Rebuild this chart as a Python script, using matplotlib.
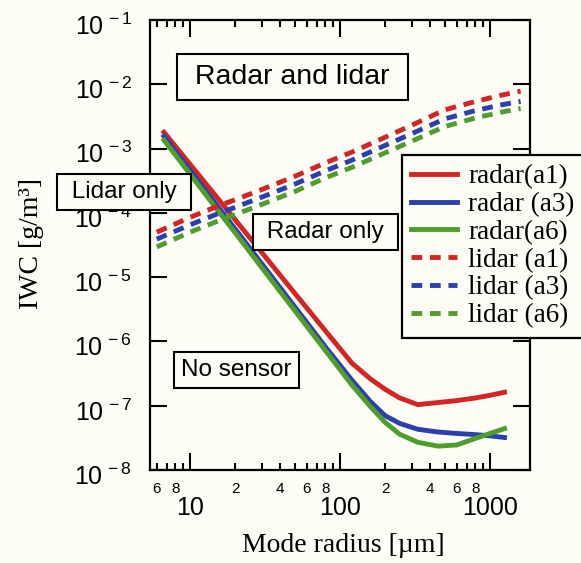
import numpy as np
import matplotlib
matplotlib.use("Agg")
import matplotlib.pyplot as plt
import matplotlib.transforms as mtransforms
from matplotlib.ticker import LogLocator, NullLocator, FuncFormatter, FixedLocator

plt.rcParams['font.family'] = ['Liberation Sans', 'DejaVu Sans']
plt.rcParams['mathtext.fontset'] = 'custom'
plt.rcParams['mathtext.rm'] = 'Liberation Sans'
plt.rcParams['mathtext.it'] = 'Liberation Sans:italic'
plt.rcParams['mathtext.bf'] = 'Liberation Sans:bold'

# radar sensitivity curves (solid)
radar_r = [6.7, 8, 10, 15, 20, 30, 50, 80, 120, 160, 200, 250, 330, 450, 600, 800, 1000, 1250]
radar_a1 = [1.8e-3, 1.08e-3, 5.7e-4, 1.78e-4, 7.8e-5, 2.44e-5, 5.6e-6, 1.46e-6, 4.6e-7,
            2.6e-7, 1.8e-7, 1.32e-7, 1.04e-7, 1.12e-7, 1.2e-7, 1.32e-7, 1.45e-7, 1.62e-7]
radar_a3 = [1.55e-3, 9.0e-4, 4.6e-4, 1.34e-4, 5.6e-5, 1.63e-5, 3.44e-6, 8.2e-7, 2.5e-7,
            1.15e-7, 7.0e-8, 5.3e-8, 4.3e-8, 3.9e-8, 3.7e-8, 3.55e-8, 3.4e-8, 3.2e-8]
radar_a6 = [1.35e-3, 7.9e-4, 4.0e-4, 1.16e-4, 4.9e-5, 1.42e-5, 3.0e-6, 7.2e-7, 2.1e-7,
            9.6e-8, 5.5e-8, 3.6e-8, 2.7e-8, 2.35e-8, 2.45e-8, 3.1e-8, 3.7e-8, 4.4e-8]

# lidar sensitivity curves (dashed)
lidar_r = [6, 10, 15, 20, 30, 50, 80, 120, 200, 300, 500, 800, 1200, 1600]
lidar_a1 = [5.0e-5, 8.5e-5, 1.25e-4, 1.6e-4, 2.3e-4, 3.7e-4, 6.0e-4, 8.8e-4,
            1.5e-3, 2.3e-3, 4.0e-3, 5.4e-3, 6.8e-3, 7.8e-3]
lidar_a3 = [3.9e-5, 6.5e-5, 9.5e-5, 1.22e-4, 1.75e-4, 2.8e-4, 4.5e-4, 6.6e-4,
            1.12e-3, 1.7e-3, 2.9e-3, 3.9e-3, 4.8e-3, 5.4e-3]
lidar_a6 = [2.95e-5, 5.0e-5, 7.3e-5, 9.4e-5, 1.35e-4, 2.15e-4, 3.5e-4, 5.1e-4,
            8.6e-4, 1.3e-3, 2.2e-3, 3.0e-3, 3.7e-3, 4.2e-3]

region_labels = [" Radar and lidar ", " Lidar only ", " Radar only ", "No sensor"]
region_pos = [(48, 1.3e-2), (3.63, 2.1e-4), (80, 5.0e-5), (20.3, 3.6e-7)]
region_size = [20.5, 17.5, 17.5, 17.5]
region_pad = [0.36, 0.3, 0.3, 0.3]

bg = '#fdfdf5'
red = '#d42424'
blue = '#2c3fae'
green = '#4f9e2c'

fig = plt.figure(figsize=(5.81, 5.63), dpi=100, facecolor=bg)
ax = fig.add_axes([0.2582, 0.1652, 0.654, 0.7993], facecolor=bg)

lw = 3.5
ax.plot(radar_r, radar_a1, color=red, lw=lw, label='radar(a1)')
ax.plot(radar_r, radar_a3, color=blue, lw=lw, label='radar (a3)')
ax.plot(radar_r, radar_a6, color=green, lw=lw, label='radar(a6)')
ax.plot(lidar_r, lidar_a1, color=red, lw=lw, dashes=(2.2, 1.6), label='lidar (a1)')
ax.plot(lidar_r, lidar_a3, color=blue, lw=lw, dashes=(2.2, 1.6), label='lidar (a3)')
ax.plot(lidar_r, lidar_a6, color=green, lw=lw, dashes=(2.2, 1.6), label='lidar (a6)')

ax.set_xscale('log')
ax.set_yscale('log')
ax.set_xlim(5.41, 1848)
ax.set_ylim(1e-8, 1e-1)

ax.yaxis.set_major_locator(LogLocator(base=10, numticks=20))
ax.yaxis.set_minor_locator(NullLocator())
ax.yaxis.set_major_formatter(FuncFormatter(lambda v, p: r'$10^{\,%d}$' % round(np.log10(v))))

ax.xaxis.set_major_locator(FixedLocator([10, 100, 1000]))
ax.xaxis.set_minor_locator(LogLocator(base=10, subs=np.arange(2, 10), numticks=20))
ax.xaxis.set_major_formatter(FuncFormatter(lambda v, p: '%d' % v))


def minor_fmt(v, p):
    m = v / 10 ** np.floor(np.log10(v) + 1e-9)
    k = int(round(m))
    return str(k) if k in (2, 4, 6, 8) else ''


ax.xaxis.set_minor_formatter(FuncFormatter(minor_fmt))

ax.tick_params(which='both', direction='in', top=True, right=True, width=1.5)
ax.tick_params(which='major', length=12.2)
ax.tick_params(which='minor', length=5)
ax.tick_params(axis='y', which='major', labelsize=18, pad=13)
ax.tick_params(axis='x', which='major', labelsize=18, pad=19)
ax.tick_params(axis='x', which='minor', labelsize=11, pad=8.5)
for s in ax.spines.values():
    s.set_linewidth(1.6)

ax.set_xlabel('Mode radius [µm]', fontfamily='Liberation Serif', fontsize=20)
ax.set_ylabel('IWC [g/m³]', fontfamily='Liberation Serif', fontsize=20)
ax.xaxis.set_label_coords(0.51, -0.14)
ax.yaxis.set_label_coords(-0.279, 0.504)

for txt, (x, y), fs, pd in zip(region_labels, region_pos, region_size, region_pad):
    ax.text(x, y, txt, fontsize=fs, ha='center', va='center', clip_on=False, zorder=10,
            bbox=dict(boxstyle='square,pad=%g' % pd, fc=bg, ec='black', lw=1.5))

leg = ax.legend(loc='upper left', bbox_to_anchor=(0.663, 0.70), borderaxespad=0,
                prop={'family': 'Liberation Serif', 'size': 19.5}, labelspacing=0.1,
                handlelength=1.7, handletextpad=0.4, borderpad=0.35,
                fancybox=False, framealpha=1, facecolor=bg, edgecolor='black')
leg.get_frame().set_linewidth(1.6)
leg.set_zorder(11)

# nudge the y tick labels down a little, like the original
fig.canvas.draw()
shift = mtransforms.ScaledTranslation(0, -3 / 72, fig.dpi_scale_trans)
for t in ax.yaxis.get_major_ticks():
    t.label1.set_transform(t.label1.get_transform() + shift)

fig.savefig('out.png', dpi=100, facecolor=bg)
